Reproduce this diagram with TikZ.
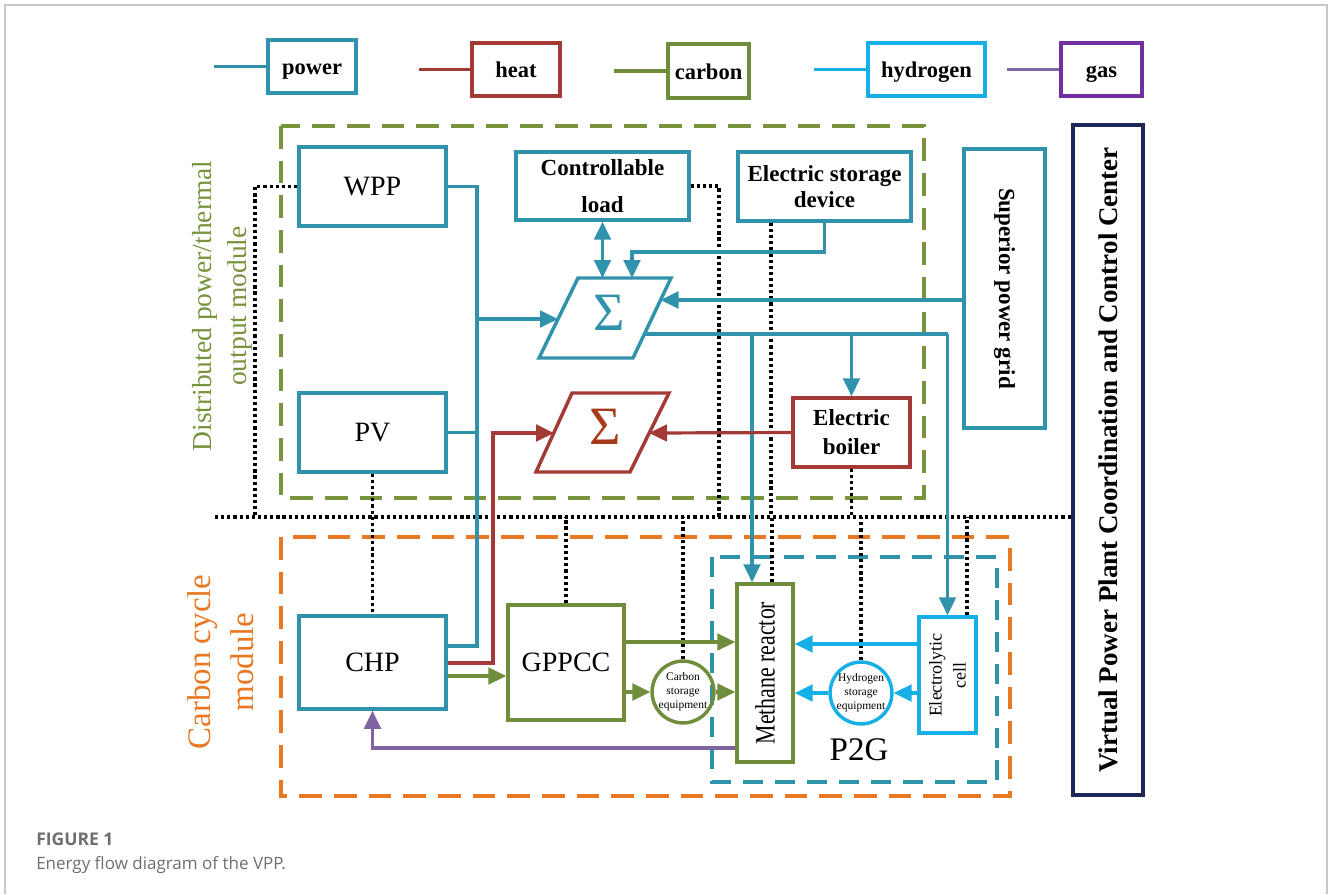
\documentclass[tikz,border=0pt]{standalone}
\usepackage{fontspec}
\setmainfont{Liberation Serif}
\newfontfamily\capfont{Open Sans}
\usetikzlibrary{arrows.meta,calc}
\definecolor{cpow}{RGB}{49,146,172}
\definecolor{cheat}{RGB}{163,58,54}
\definecolor{ccarb}{RGB}{111,141,58}
\definecolor{chyd}{RGB}{22,176,230}
\definecolor{cgasl}{RGB}{128,100,162}
\definecolor{cgasb}{RGB}{112,48,160}
\definecolor{cgreen}{RGB}{119,147,60}
\definecolor{corange}{RGB}{232,120,34}
\definecolor{cnavy}{RGB}{31,38,90}
\definecolor{csigred}{RGB}{168,58,28}
\definecolor{cframe}{RGB}{200,200,200}
\definecolor{ccap}{RGB}{110,110,110}
\newcommand\pxsize[2]{\fontsize{\fpeval{#1*0.75}}{\fpeval{#2*0.75}}\selectfont}
\begin{document}
\begin{tikzpicture}[x=0.75pt,y=-0.75pt,
  bx/.style={draw,line width=2.6pt,inner sep=0pt,align=center},
  circ/.style={draw,circle,line width=2.6pt,inner sep=0pt,minimum size=60*0.75pt,align=center,font=\pxsize{11.5}{14}},
  ln/.style={line width=2.4pt},
  pow/.style={ln,draw=cpow},
  heat/.style={ln,draw=cheat},
  carb/.style={ln,draw=ccarb},
  hyd/.style={ln,draw=chyd},
  gasl/.style={ln,draw=cgasl},
  arr/.style={-{Triangle[length=13.5pt,width=12.5pt]}},
  darr/.style={{Triangle[length=13.5pt,width=12.5pt]}-{Triangle[length=13.5pt,width=12.5pt]}},
  dots/.style={draw=black,line width=2.6pt,dash pattern=on 2.4pt off 2.2pt},
  modbox/.style={line width=2.6pt,dash pattern=on 17pt off 9pt},
  legtxt/.style={font=\bfseries\pxsize{22.5}{22.5},text height=15pt,text depth=3pt},
  bold23/.style={font=\bfseries\pxsize{23}{#1}},
]
\useasboundingbox (0,0) rectangle (1330,894);
% frame
\draw[cframe,line width=1.1pt] (5,894) -- (5,5) -- (1327,5) -- (1327,894);

% legend
\node[bx,draw=cpow,minimum width=88*0.75pt,minimum height=53*0.75pt,legtxt] (legP) at (312,66.5) {power};
\node[bx,draw=cheat,minimum width=88*0.75pt,minimum height=53*0.75pt,legtxt] (legH) at (516,69.5) {heat};
\node[bx,draw=ccarb,minimum width=81*0.75pt,minimum height=54*0.75pt,legtxt] (legC) at (708.5,71) {carbon};
\node[bx,draw=chyd,minimum width=117*0.75pt,minimum height=53*0.75pt,legtxt] (legY) at (926.5,69.5) {hydrogen};
\node[bx,draw=cgasb,minimum width=81*0.75pt,minimum height=53*0.75pt,legtxt] (legG) at (1101.5,69.5) {gas};
\coordinate (lP) at (214,66.5);
\coordinate (lH) at (419,69.5);
\coordinate (lC) at (614,71);
\coordinate (lY) at (814,69.5);
\coordinate (lG) at (1007,69.5);
\draw[pow,line width=2.8pt] (lP) -- (legP.west);
\draw[heat,line width=2.8pt] (lH) -- (legH.west);
\draw[carb,line width=2.8pt] (lC) -- (legC.west);
\draw[hyd,line width=2.8pt] (lY) -- (legY.west);
\draw[gasl,line width=2.8pt] (lG) -- (legG.west);

% module boxes
\draw[modbox,cgreen] (281,126) rectangle (924,498);
\draw[modbox,corange] (281,537) rectangle (1010,796);
\draw[line width=2.6pt,cpow,dash pattern=on 15pt off 9pt] (712,557) rectangle (997,782);

\node[rotate=90,text=cgreen,align=center,font=\pxsize{27.5}{35}] (distlbl) at (222,306) {Distributed power/thermal\\output module};
\node[rotate=90,text=corange,align=center,font=\pxsize{33}{43}] (carblbl) at (221,662) {Carbon cycle\\module};

% nodes
\node[bx,draw=cpow,minimum width=147*0.75pt,minimum height=79*0.75pt,font=\pxsize{28}{28}] (WPP) at (372.5,186.5) {WPP};
\node[bx,draw=cpow,minimum width=147*0.75pt,minimum height=79*0.75pt,font=\pxsize{28}{28}] (PV) at (372.5,432.5) {PV};
\node[bx,draw=cpow,minimum width=173*0.75pt,minimum height=68*0.75pt,bold23=37] (load) at (602.5,186) {Controllable\\load};
\node[bx,draw=cpow,minimum width=173*0.75pt,minimum height=69*0.75pt,bold23=26] (stor) at (824.5,186.5) {Electric storage\\device};
\node[bx,draw=cpow,minimum width=81*0.75pt,minimum height=279*0.75pt] (grid) at (1004.5,288.5) {};
\node[rotate=-90,bold23=23] (gridlbl) at (grid.center) {Superior power grid};
\node[bx,draw=cheat,minimum width=117*0.75pt,minimum height=69*0.75pt,bold23=29] (boiler) at (851.5,432.5) {Electric\\boiler};
\node[bx,draw=cpow,minimum width=147*0.75pt,minimum height=93*0.75pt,font=\pxsize{28}{28}] (CHP) at (372.5,662.5) {CHP};
\node[bx,draw=ccarb,minimum width=116*0.75pt,minimum height=115*0.75pt,font=\pxsize{28}{28}] (GPPCC) at (566,662.5) {GPPCC};
\node[circ,draw=ccarb] (cstore) at (683,692) {Carbon\\storage\\equipment};
\node[bx,draw=ccarb,minimum width=56*0.75pt,minimum height=178*0.75pt] (meth) at (765,673) {};
\node[rotate=90,font=\pxsize{28}{28}] (methlbl) at (meth.center) {\scalebox{0.78}[1]{Methane reactor}};
\node[circ,draw=chyd] (hstore) at (861,693) {Hydrogen\\storage\\equipment};
\node[bx,draw=chyd,minimum width=57*0.75pt,minimum height=116*0.75pt] (elec) at (947.5,675) {};
\node[rotate=90,align=center,font=\pxsize{18}{24}] (eleclbl) at (elec.center) {Electrolytic\\cell};
\node[font=\pxsize{33}{33}] (p2g) at (859,750) {P2G};
\node[bx,draw=cnavy,minimum width=70*0.75pt,minimum height=670*0.75pt] (ctrl) at (1108,460) {};
\node[rotate=90,font=\bfseries\pxsize{27}{27}] (ctrllbl) at (ctrl.center) {Virtual Power Plant Coordination and Control Center};

% sigma blocks
\coordinate (sB1) at (578,278);
\coordinate (sB2) at (671,278);
\coordinate (sB3) at (633,358);
\coordinate (sB4) at (539,358);
\draw[pow,line width=2.6pt] (sB1) -- (sB2) -- (sB3) -- (sB4) -- cycle;
\node[text=cpow,font=\pxsize{54}{54}] (sigB) at (609,313) {Σ};
\coordinate (sR1) at (572,393);
\coordinate (sR2) at (669,393);
\coordinate (sR3) at (630,472);
\coordinate (sR4) at (536,472);
\draw[heat,line width=2.6pt] (sR1) -- (sR2) -- (sR3) -- (sR4) -- cycle;
\node[text=csigred,font=\pxsize{54}{54}] (sigR) at (605,427) {Σ};
\coordinate (sBin) at (558,319);
\coordinate (sBgrid) at (660.5,300);
\coordinate (sBout) at (644,334);
\coordinate (sRin) at (554,433);
\coordinate (sRright) at (649,433);

% dotted control lines
\draw[dots] (215,517) -- (ctrl.west |- 0,517);
\draw[dots] (WPP.west) -- (255,186.5) -- (255,517);
\draw[dots] (PV.south) -- (CHP.north);
\draw[dots] (load.east) -- (719,186) -- (719,517);
\draw[dots] (stor.south -| 771,0) -- (771,517);
\draw[dots] (boiler.south) -- (851.5,517);
\draw[dots] (GPPCC.north) -- (566,517);
\draw[dots] (cstore.north) -- (683,517);
\draw[dots] (meth.north -| 772,0) -- (772,517);
\draw[dots] (hstore.north) -- (861,517);
\draw[dots] (elec.north -| 967,0) -- (967,517);

% power
\draw[pow] (WPP.east) -- (477,186.5) -- (477,646) -- (CHP.east |- 0,646);
\draw[pow] (PV.east) -- (477,432.5);
\draw[pow,arr] (477,319) -- (sBin);
\draw[pow,darr] (load.south) -- (load.south |- sB1);
\draw[pow,arr] (stor.south) -- (824.5,252) -- (632,252) -- (632,278);
\draw[pow,arr] (grid.west |- sBgrid) -- (sBgrid);
\draw[pow] (sBout) -- (947.5,334);
\draw[pow,arr] (947.5,334) -- (elec.north);
\draw[pow,arr] (752,334) -- (meth.north -| 752,0);
\draw[pow,arr] (boiler.north |- sBout) -- (boiler.north);

% heat
\draw[heat,arr] (boiler.west) -- (sRright);
\draw[heat,arr] (CHP.east |- 0,663) -- (493,663) -- (493,433) -- (sRin);

% carbon
\draw[carb,arr] (CHP.east |- 0,676) -- (GPPCC.west |- 0,676);
\draw[carb,arr] (GPPCC.east |- 0,642) -- (meth.west |- 0,642);
\draw[carb,arr] (GPPCC.east |- cstore.west) -- (cstore.west);
\draw[carb,arr] (cstore.east) -- (meth.west |- cstore.east);

% hydrogen
\draw[hyd,arr] (elec.west |- 0,644) -- (meth.east |- 0,644);
\draw[hyd,arr] (elec.west |- hstore.east) -- (hstore.east);
\draw[hyd,arr] (hstore.west) -- (meth.east |- hstore.west);

% gas
\draw[gasl,arr] (meth.west |- 0,748) -- (372.5,748) -- (CHP.south);

% caption
\node[anchor=base west,text=ccap,font=\capfont\bfseries\pxsize{17.5}{17.5},inner sep=0pt] (fig) at (36,845) {FIGURE 1};
\node[anchor=base west,text=ccap,font=\capfont\pxsize{17}{17},inner sep=0pt] (figcap) at (36,869) {Energy flow diagram of the VPP.};
\end{tikzpicture}
\end{document}
